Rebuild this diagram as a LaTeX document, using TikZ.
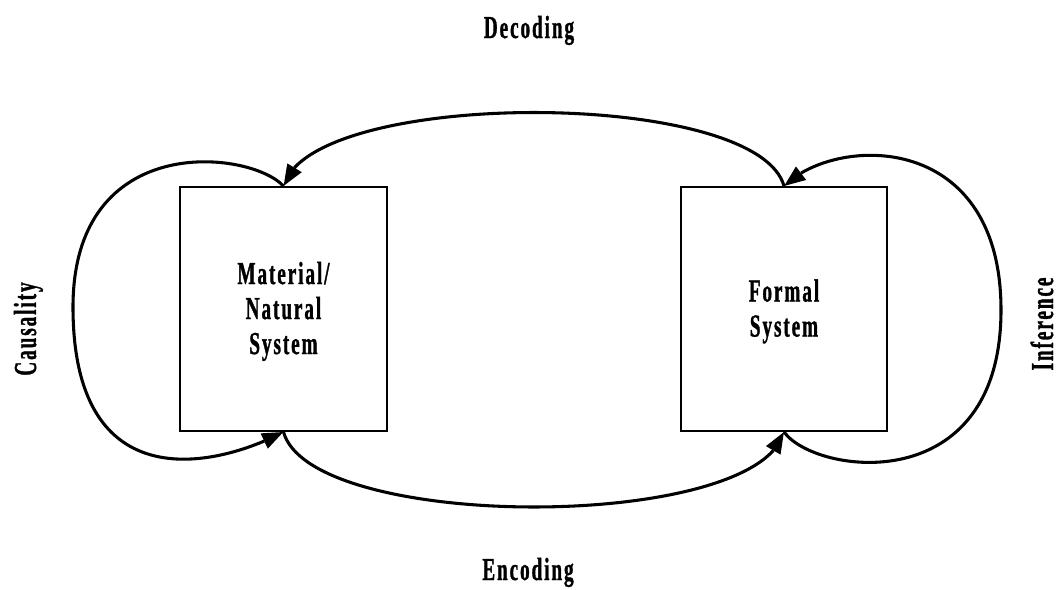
\documentclass[tikz,border=0pt]{standalone}
\usepackage{fontspec}
\usetikzlibrary{arrows.meta,bending}
% condensed bold serif used for every label
\newfontfamily\lbl[FakeStretch=0.6,LetterSpace=6,FakeBold=1]{Liberation Serif}

\tikzset{
  lbltext/.style={font=\lbl\bfseries\fontsize{24}{26.25}\selectfont, inner sep=0pt},
  sysbox/.style={draw, line width=1.4pt, inner sep=0pt, align=center,
                 minimum width=155.25pt, minimum height=183pt,
                 font=\lbl\bfseries\fontsize{24}{26.25}\selectfont},
  flow/.style={line width=2.3pt, -{Triangle[length=16pt,width=12pt]}},
}

\begin{document}
\begin{tikzpicture}[x=0.75pt,y=-0.75pt]
  \useasboundingbox (0,0) rectangle (1060,589);

  % the two systems
  \node[sysbox] (mat) at (283.5,309) {\\[-6pt]Material/\\Natural\\System};
  \node[sysbox, minimum width=154.5pt] (form) at (784,309) {\\[-6pt]Formal\\System};

  % side labels
  \node[lbltext, anchor=base] (dec) at (529,38) {Decoding};
  \node[lbltext, anchor=base] (enc) at (528,580) {Encoding};
  \node[lbltext, anchor=base, rotate=90] (cau) at (36,329) {Causality};
  \node[lbltext, anchor=base, rotate=90] (inf) at (1053,324) {Inference};

  % decoding: formal -> material over the top
  \draw[flow] (form.north) .. controls (757,88) and (311,88) .. (mat.north);
  % encoding: material -> formal under the bottom
  \draw[flow] (mat.south) .. controls (311,532) and (757,532) .. (form.south);

  % causality loop on the left
  \coordinate (cl) at (73,307);
  \draw[line width=2.3pt] (mat.north) .. controls (250,150) and (73,130) .. (cl);
  \draw[flow] (cl) .. controls (73,500) and (215,468) .. (mat.south);

  % inference loop on the right
  \coordinate (cr) at (1001,310);
  \draw[line width=2.3pt] (form.south) .. controls (815,475) and (1001,500) .. (cr);
  \draw[flow] (cr) .. controls (1001,130) and (835,135) .. (form.north);
\end{tikzpicture}
\end{document}
